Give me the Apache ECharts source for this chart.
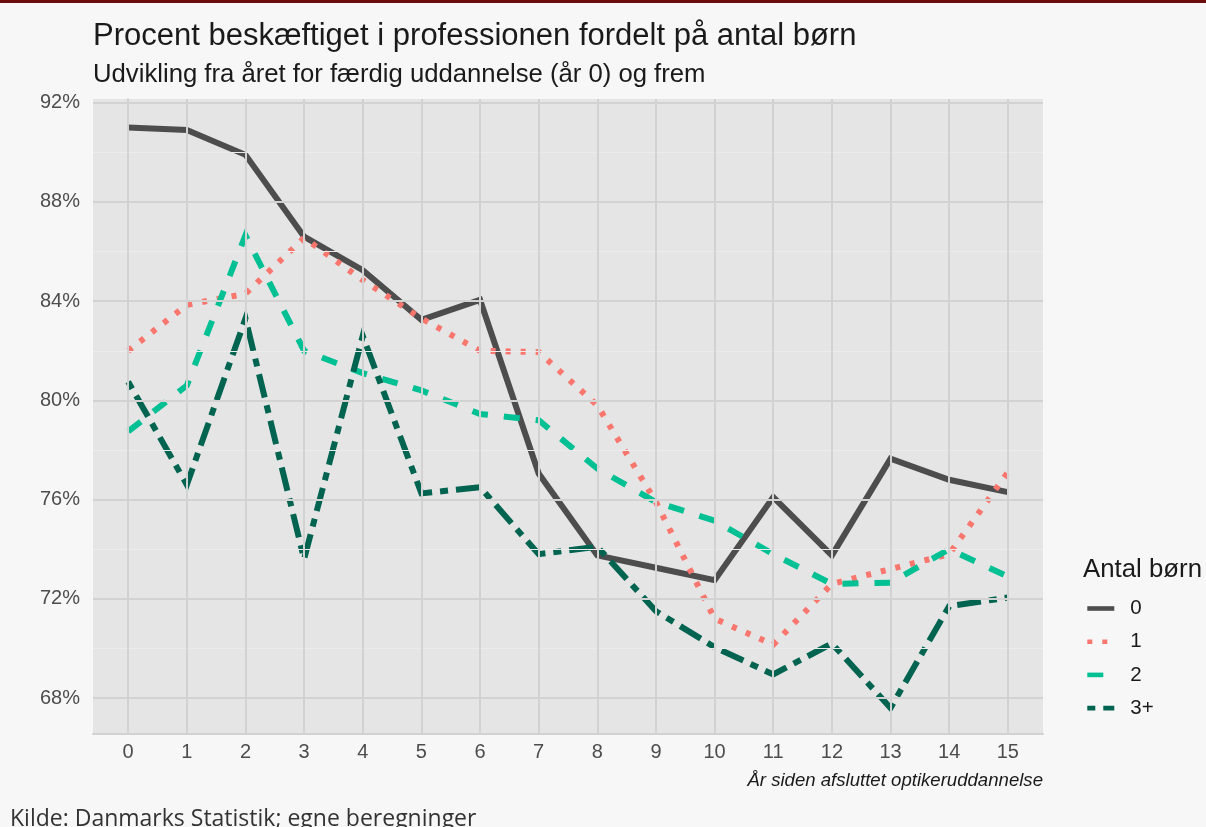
<!DOCTYPE html>
<html>
<head>
<meta charset="utf-8">
<script src="https://cdn.jsdelivr.net/npm/echarts@6/dist/echarts.min.js"></script>
<style>
  html, body { margin: 0; padding: 0; background: #f7f7f7; }
  #topbar { position: absolute; left: 0; top: 0; width: 1206px; height: 3px; background: #6b0d0d; z-index: 2; }
  #chart-container { width: 1206px; height: 827px; }
</style>
</head>
<body>
<div id="topbar"></div>
<div id="chart-container"></div>
<script>
// aar siden afsluttet uddannelse
var years = [0, 1, 2, 3, 4, 5, 6, 7, 8, 9, 10, 11, 12, 13, 14, 15];

// procent beskaeftiget, aflaest fra figuren
var born0 = [91.0, 90.9, 89.9, 86.6, 85.25, 83.25, 84.05, 77.05, 73.75, 73.25, 72.75, 76.1, 73.75, 77.65, 76.8, 76.3];
var born1 = [82.0, 83.85, 84.3, 86.55, 84.85, 83.3, 82.0, 81.95, 79.8, 75.9, 71.2, 70.15, 72.6, 73.2, 73.8, 77.1];
var born2 = [78.75, 80.6, 86.65, 82.0, 81.1, 80.4, 79.45, 79.2, 77.25, 75.9, 75.15, 73.8, 72.6, 72.65, 74.0, 72.9];
var born3 = [80.75, 76.6, 83.3, 73.6, 82.6, 76.25, 76.5, 73.8, 74.1, 71.5, 70.05, 68.95, 70.2, 67.6, 71.7, 72.05];

var yTicks = [68, 72, 76, 80, 84, 88, 92];
var yMinor = [70, 74, 78, 82, 86, 90];
var xTicks = years;

var seriesNames = ['0', '1', '2', '3+'];

function pairs(vals) {
  return years.map(function (x, i) { return [x, vals[i]]; });
}

var dom = document.getElementById('chart-container');
var myChart = echarts.init(dom, null, { renderer: 'canvas' });

var font = 'Liberation Sans, Arial, sans-serif';
var lw = 4.6;

var gridLines = [];
yMinor.forEach(function (v) {
  gridLines.push({ yAxis: v, lineStyle: { color: '#ececec', width: 1, type: 'solid' } });
});
yTicks.forEach(function (v) {
  gridLines.push({ yAxis: v, lineStyle: { color: '#d2d2d2', width: 2, type: 'solid' } });
});
xTicks.forEach(function (v) {
  gridLines.push({ xAxis: v, lineStyle: { color: '#d2d2d2', width: 2, type: 'solid' } });
});

function lineSeries(name, vals, color, dash) {
  return {
    name: name,
    type: 'line',
    data: pairs(vals),
    symbol: 'none',
    z: 3,
    lineStyle: { color: color, width: 6, type: dash, cap: 'butt', join: 'miter' },
    emphasis: { disabled: true },
    itemStyle: { color: color }
  };
}

var option = {
  backgroundColor: '#f7f7f7',
  animation: false,
  title: [
    {
      text: 'Procent beskæftiget i professionen fordelt på antal børn',
      left: 88, top: 16,
      textStyle: { fontFamily: font, fontSize: 31, fontWeight: 'normal', color: '#1a1a1a' }
    },
    {
      text: 'Udvikling fra året for færdig uddannelse (år 0) og frem',
      left: 88, top: 57,
      textStyle: { fontFamily: font, fontSize: 25.7, fontWeight: 'normal', color: '#1a1a1a' }
    },
    {
      text: 'År siden afsluttet optikeruddannelse',
      right: 158, top: 766,
      textStyle: { fontFamily: font, fontSize: 18.6, fontStyle: 'italic', fontWeight: 'normal', color: '#1a1a1a' }
    },
    {
      text: 'Antal børn',
      left: 1078, top: 552,
      textStyle: { fontFamily: font, fontSize: 25.8, fontWeight: 'normal', color: '#1a1a1a' }
    },
    {
      text: 'Kilde: Danmarks Statistik; egne beregninger',
      left: 5, top: 803,
      textStyle: { fontFamily: 'Open Sans, sans-serif', fontSize: 23, fontWeight: 'normal', color: '#333333' }
    }
  ],
  legend: {
    data: seriesNames,
    orient: 'vertical',
    left: 1085, top: 598, padding: 0,
    itemWidth: 27, itemHeight: 14,
    itemGap: 12.2,
    itemStyle: { opacity: 0 },
    lineStyle: { width: lw },
    textStyle: { fontFamily: font, fontSize: 20.5, color: '#1a1a1a', padding: [0, 0, 0, 11] }
  },
  grid: {
    left: 93, right: 163, top: 99, bottom: 93,
    show: true, backgroundColor: '#e5e5e5', borderWidth: 0
  },
  xAxis: {
    type: 'value',
    min: -0.6, max: 15.6,
    axisLine: { show: true, lineStyle: { color: '#d2d2d2', width: 2 } },
    axisTick: { show: false },
    splitLine: { show: false },
    axisLabel: {
      customValues: xTicks,
      margin: 8,
      fontFamily: font, fontSize: 20, color: '#4d4d4d'
    }
  },
  yAxis: {
    type: 'value',
    min: 66.55, max: 92.15,
    axisLine: { show: true, lineStyle: { color: '#d2d2d2', width: 2 } },
    axisTick: { show: false },
    splitLine: { show: false },
    axisLabel: {
      customValues: yTicks,
      margin: 13,
      fontFamily: font, fontSize: 20, color: '#4d4d4d',
      formatter: function (v) { return v + '%'; }
    }
  },
  series: [
    {
      name: 'grid',
      type: 'line',
      data: [],
      silent: true,
      z: 1,
      markLine: { symbol: 'none', silent: true, label: { show: false }, animation: false, data: gridLines }
    },
    lineSeries('0', born0, '#4d4d4d', 'solid'),
    lineSeries('1', born1, '#f8766d', [5, 10]),
    lineSeries('2', born2, '#00c094', [16, 16]),
    lineSeries('3+', born3, '#006450', [8, 8, 24, 8])
  ]
};

myChart.setOption(option);
window.addEventListener('resize', myChart.resize);
</script>
</body>
</html>
